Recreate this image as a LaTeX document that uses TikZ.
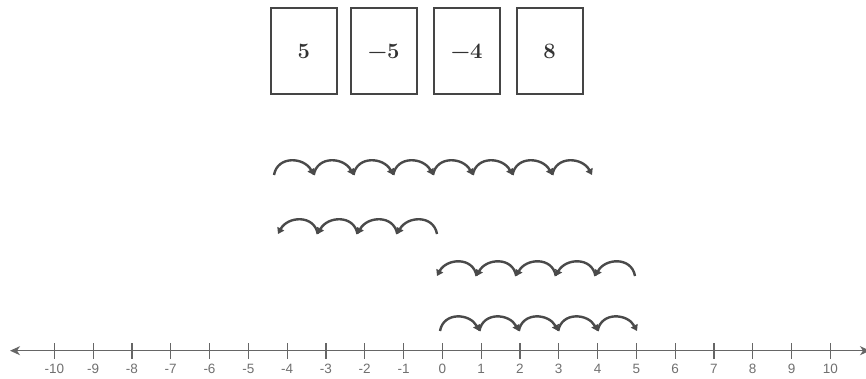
\documentclass[tikz,border=0pt]{standalone}
\usepackage{fontspec}
\newfontfamily\axisfont{Liberation Sans}
\usetikzlibrary{arrows.meta}
\definecolor{arcgray}{HTML}{4A4A4A}
\definecolor{axisgray}{HTML}{666666}
\definecolor{labelgray}{HTML}{707070}
\definecolor{cardgray}{HTML}{454545}
\definecolor{cardtext}{HTML}{333333}
\tikzset{
  card/.style={draw=cardgray, line width=2pt, minimum width=66pt, minimum height=86pt,
    inner sep=0pt, text=cardtext, font=\fontsize{22}{22}\selectfont\bfseries},
  jump/.style={draw=arcgray, line width=2.4pt, -{Triangle[length=6pt,width=7.5pt]}},
  axisline/.style={draw=axisgray, line width=1.4pt,
    {Stealth[length=10pt,width=9pt,inset=3pt]}-{Stealth[length=10pt,width=9pt,inset=3pt]}},
  tickmark/.style={draw=axisgray, line width=1.2pt},
  ticklabel/.style={text=labelgray, font=\axisfont\fontsize{13.5}{13.5}\selectfont, inner sep=0pt}
}
\begin{document}
\begin{tikzpicture}[x=1pt,y=-1pt]
\useasboundingbox (0,0) rectangle (866,379);
% cards
\node[card] (c1) at (303.8,51.5) {5};
\node[card] (c2) at (383.8,51.5) {−5};
\node[card] (c3) at (466.7,51.5) {−4};
\node[card] (c4) at (549.5,51.5) {8};
% row 1: 8 jumps to the right
\foreach \i in {0,...,8} \coordinate (ra\i) at ({274+39.75*\i},175);
\foreach \i [evaluate=\i as \j using int(\i+1)] in {0,...,7}
  \draw[jump] (ra\i) to[out=80,in=118,looseness=1.3] (ra\j);
% row 2: 4 jumps to the left
\foreach \i in {0,...,4} \coordinate (rb\i) at ({437-39.75*\i},234);
\foreach \i [evaluate=\i as \j using int(\i+1)] in {0,...,3}
  \draw[jump] (rb\i) to[out=100,in=62,looseness=1.3] (rb\j);
% row 3: 5 jumps to the left
\foreach \i in {0,...,5} \coordinate (rc\i) at ({635-39.6*\i},276);
\foreach \i [evaluate=\i as \j using int(\i+1)] in {0,...,4}
  \draw[jump] (rc\i) to[out=100,in=62,looseness=1.3] (rc\j);
% row 4: 5 jumps to the right
\foreach \i in {0,...,5} \coordinate (rd\i) at ({440+39.4*\i},331);
\foreach \i [evaluate=\i as \j using int(\i+1)] in {0,...,4}
  \draw[jump] (rd\i) to[out=80,in=118,looseness=1.3] (rd\j);
% number line
\coordinate (axl) at (10,350.7);
\coordinate (axr) at (870,350.7);
\draw[axisline] (axl) -- (axr);
\foreach \k in {-10,...,10} {
  \coordinate (t\k) at ({442.3+38.8*\k},350.7);
  \draw[tickmark] ([yshift=-8pt]t\k) -- ([yshift=7.5pt]t\k);
  \node[ticklabel] (l\k) at ([yshift=-18.5pt]t\k) {\k};
}
\end{tikzpicture}
\end{document}
